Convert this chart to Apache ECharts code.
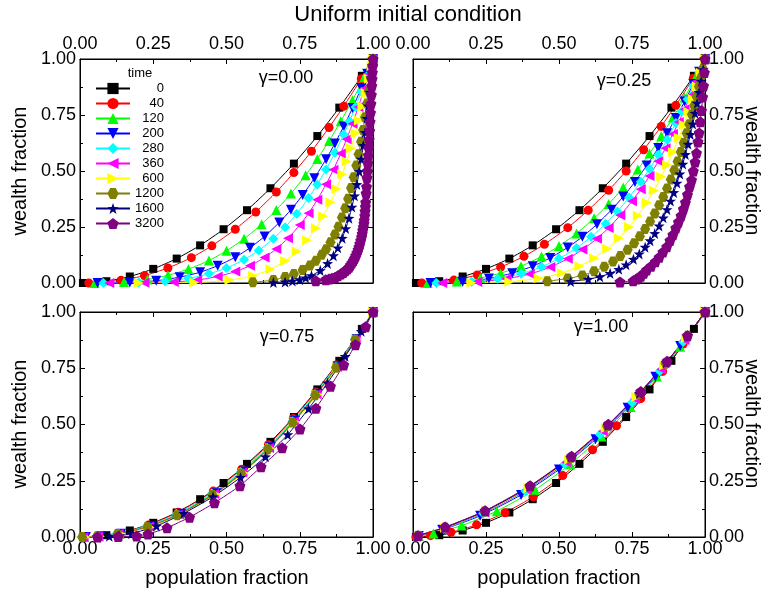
<!DOCTYPE html>
<html><head><meta charset="utf-8">
<script src="https://cdn.jsdelivr.net/npm/echarts@6/dist/echarts.min.js"></script>
<style>html,body{margin:0;padding:0;background:#fff}#c{width:768px;height:593px}</style>
</head><body><div id="c"></div>
<script>
// ---------- data ----------
const times = ['0','40','120','200','280','360','600','1200','1600','3200'];
const gammaLabels = ['\u03b3=0.00','\u03b3=0.25','\u03b3=0.75','\u03b3=1.00'];
const tickValues = [0, 0.25, 0.5, 0.75, 1];

// initial (uniform) distribution, identical in every panel
const lorenzT0 = [[0.01,0],[0.09,0.008],[0.17,0.029],[0.25,0.063],[0.33,0.109],[0.41,0.168],[0.49,0.24],[0.57,0.325],[0.65,0.423],[0.73,0.533],[0.81,0.656],[0.885,0.783],[0.962,0.925],[1,1]];

// gamma = 0.00
const g000_t40 = [[0.03,0],[0.14,0.012],[0.22,0.033],[0.30,0.067],[0.38,0.113],[0.45,0.166],[0.53,0.24],[0.60,0.317],[0.67,0.406],[0.73,0.493],[0.79,0.588],[0.85,0.694],[0.90,0.789],[0.96,0.912],[1,1]];
const g000_t120 = [[0.05,0],[0.15,0.005],[0.23,0.016],[0.30,0.034],[0.37,0.062],[0.44,0.10],[0.50,0.144],[0.56,0.197],[0.62,0.262],[0.67,0.326],[0.72,0.399],[0.77,0.481],[0.81,0.554],[0.85,0.634],[0.89,0.722],[0.93,0.816],[0.97,0.918],[1,1]];
const g000_t200 = [[0.06,0],[0.17,0.002],[0.26,0.01],[0.34,0.026],[0.41,0.048],[0.47,0.077],[0.53,0.115],[0.58,0.157],[0.63,0.208],[0.68,0.27],[0.72,0.327],[0.76,0.393],[0.80,0.468],[0.84,0.553],[0.87,0.623],[0.90,0.699],[0.93,0.781],[0.96,0.87],[0.98,0.934],[1,1]];
const g000_t280 = [[0.08,0],[0.20,0.002],[0.29,0.008],[0.37,0.021],[0.44,0.041],[0.50,0.067],[0.56,0.104],[0.61,0.145],[0.66,0.198],[0.70,0.249],[0.74,0.309],[0.78,0.379],[0.81,0.44],[0.84,0.507],[0.87,0.581],[0.90,0.663],[0.92,0.722],[0.94,0.786],[0.96,0.853],[0.98,0.924],[1,1]];
const g000_t360 = [[0.10,0],[0.22,0.001],[0.32,0.005],[0.40,0.013],[0.47,0.029],[0.53,0.051],[0.58,0.077],[0.63,0.114],[0.67,0.152],[0.71,0.20],[0.75,0.259],[0.78,0.311],[0.81,0.372],[0.84,0.441],[0.865,0.506],[0.89,0.578],[0.91,0.642],[0.93,0.711],[0.95,0.786],[0.97,0.867],[0.985,0.931],[1,1]];
const g000_t600 = [[0.20,0],[0.39,0.002],[0.51,0.013],[0.59,0.032],[0.65,0.061],[0.70,0.098],[0.74,0.141],[0.775,0.191],[0.805,0.244],[0.83,0.298],[0.855,0.361],[0.875,0.42],[0.895,0.486],[0.91,0.542],[0.925,0.602],[0.94,0.669],[0.952,0.726],[0.964,0.788],[0.975,0.848],[0.986,0.912],[0.995,0.968],[1,1]];
const g000_t1200 = [[0.59,0.003],[0.66,0.013],[0.70,0.027],[0.73,0.04],[0.76,0.058],[0.785,0.078],[0.805,0.099],[0.825,0.126],[0.84,0.151],[0.855,0.182],[0.87,0.216],[0.882,0.251],[0.894,0.292],[0.905,0.334],[0.915,0.376],[0.925,0.424],[0.934,0.472],[0.943,0.524],[0.951,0.575],[0.959,0.631],[0.966,0.683],[0.973,0.74],[0.98,0.801],[0.986,0.856],[0.992,0.916],[0.997,0.967],[1,1]];
const g000_t1600 = [[0.66,0.002],[0.70,0.005],[0.725,0.009],[0.75,0.015],[0.77,0.023],[0.79,0.033],[0.82,0.056],[0.845,0.087],[0.865,0.122],[0.88,0.157],[0.895,0.2],[0.907,0.243],[0.918,0.289],[0.928,0.339],[0.937,0.389],[0.945,0.44],[0.953,0.498],[0.96,0.553],[0.967,0.614],[0.973,0.672],[0.979,0.735],[0.984,0.791],[0.989,0.852],[0.994,0.916],[0.998,0.971],[1,1]];
const g000_t3200 = [[0.805,0.01],[0.839,0.015],[0.85,0.018],[0.86,0.021],[0.87,0.025],[0.88,0.032],[0.89,0.04],[0.898,0.047],[0.905,0.055],[0.912,0.062],[0.918,0.07],[0.923,0.08],[0.928,0.09],[0.933,0.10],[0.937,0.11],[0.941,0.122],[0.945,0.135],[0.949,0.148],[0.952,0.161],[0.955,0.175],[0.958,0.19],[0.961,0.205],[0.963,0.22],[0.965,0.235],[0.967,0.25],[0.969,0.265],[0.970,0.28],[0.972,0.30],[0.973,0.32],[0.974,0.34],[0.975,0.36],[0.9765,0.40],[0.978,0.43],[0.9795,0.47],[0.981,0.50],[0.9825,0.535],[0.984,0.57],[0.9855,0.605],[0.987,0.64],[0.9885,0.68],[0.990,0.72],[0.9915,0.76],[0.993,0.80],[0.9945,0.84],[0.996,0.88],[0.997,0.91],[0.998,0.94],[0.999,0.97],[1,1]];

// gamma = 0.25
const g025_t40 = [[0.03,0],[0.14,0.013],[0.22,0.036],[0.30,0.071],[0.38,0.119],[0.45,0.173],[0.53,0.247],[0.60,0.325],[0.67,0.414],[0.73,0.50],[0.79,0.595],[0.85,0.699],[0.90,0.793],[0.96,0.914],[1,1]];
const g025_t120 = [[0.05,0],[0.15,0.007],[0.23,0.022],[0.30,0.044],[0.37,0.075],[0.44,0.118],[0.50,0.165],[0.56,0.221],[0.62,0.289],[0.67,0.353],[0.72,0.426],[0.77,0.507],[0.81,0.578],[0.85,0.655],[0.89,0.739],[0.93,0.828],[0.97,0.924],[1,1]];
const g025_t200 = [[0.06,0],[0.17,0.006],[0.26,0.02],[0.34,0.044],[0.41,0.075],[0.47,0.112],[0.53,0.159],[0.58,0.206],[0.63,0.262],[0.68,0.327],[0.72,0.386],[0.76,0.451],[0.80,0.524],[0.84,0.603],[0.87,0.668],[0.90,0.737],[0.93,0.81],[0.96,0.888],[0.98,0.943],[1,1]];
const g025_t280 = [[0.08,0],[0.20,0.006],[0.29,0.019],[0.37,0.041],[0.44,0.072],[0.50,0.109],[0.56,0.156],[0.61,0.206],[0.66,0.265],[0.70,0.319],[0.74,0.382],[0.78,0.452],[0.81,0.51],[0.84,0.572],[0.87,0.64],[0.90,0.714],[0.92,0.766],[0.94,0.82],[0.96,0.878],[0.98,0.937],[1,1]];
const g025_t360 = [[0.10,0],[0.22,0.005],[0.32,0.019],[0.40,0.04],[0.47,0.071],[0.53,0.108],[0.58,0.149],[0.63,0.198],[0.67,0.246],[0.71,0.302],[0.75,0.365],[0.78,0.419],[0.81,0.478],[0.84,0.543],[0.865,0.602],[0.89,0.665],[0.91,0.719],[0.93,0.776],[0.95,0.836],[0.97,0.899],[0.985,0.948],[1,1]];
const g025_t600 = [[0.20,0.001],[0.33,0.006],[0.43,0.021],[0.51,0.045],[0.57,0.075],[0.62,0.111],[0.665,0.153],[0.705,0.20],[0.74,0.25],[0.77,0.30],[0.80,0.358],[0.825,0.413],[0.85,0.474],[0.87,0.527],[0.89,0.585],[0.91,0.648],[0.927,0.706],[0.943,0.763],[0.958,0.821],[0.972,0.877],[0.986,0.937],[1,1]];
const g025_t1200 = [[0.46,0.008],[0.53,0.02],[0.58,0.034],[0.62,0.052],[0.655,0.073],[0.685,0.096],[0.71,0.12],[0.735,0.148],[0.757,0.178],[0.777,0.209],[0.795,0.241],[0.812,0.275],[0.828,0.31],[0.843,0.347],[0.857,0.384],[0.87,0.422],[0.883,0.462],[0.895,0.503],[0.906,0.542],[0.917,0.585],[0.927,0.625],[0.937,0.668],[0.946,0.709],[0.955,0.752],[0.963,0.791],[0.971,0.833],[0.979,0.877],[0.986,0.916],[0.993,0.957],[1,1]];
const g025_t1600 = [[0.54,0.007],[0.60,0.017],[0.64,0.028],[0.675,0.043],[0.705,0.061],[0.73,0.081],[0.755,0.106],[0.775,0.13],[0.795,0.16],[0.812,0.189],[0.828,0.221],[0.843,0.255],[0.857,0.291],[0.87,0.328],[0.882,0.366],[0.893,0.404],[0.904,0.446],[0.914,0.487],[0.924,0.531],[0.933,0.574],[0.942,0.62],[0.95,0.663],[0.958,0.71],[0.966,0.758],[0.973,0.803],[0.98,0.851],[0.987,0.901],[0.994,0.953],[1,1]];
const g025_t3200 = [[0.709,0.005],[0.754,0.01],[0.765,0.018],[0.772,0.024],[0.78,0.03],[0.79,0.043],[0.80,0.058],[0.815,0.075],[0.83,0.095],[0.843,0.115],[0.856,0.138],[0.869,0.162],[0.88,0.19],[0.89,0.215],[0.90,0.245],[0.909,0.272],[0.918,0.30],[0.926,0.33],[0.933,0.36],[0.94,0.395],[0.947,0.43],[0.954,0.46],[0.96,0.50],[0.966,0.54],[0.971,0.58],[0.976,0.63],[0.98,0.67],[0.984,0.72],[0.988,0.77],[0.992,0.83],[0.995,0.88],[0.998,0.94],[1,1]];

// gamma = 0.75
const g075_t40 = [[0.01,0],[0.06,0.003],[0.13,0.016],[0.233,0.053],[0.335,0.11],[0.455,0.204],[0.552,0.301],[0.643,0.41],[0.728,0.527],[0.805,0.645],[0.875,0.764],[0.94,0.882],[1,1]];
const g075_t120 = [[0.015,0],[0.065,0.003],[0.135,0.015],[0.238,0.05],[0.34,0.105],[0.46,0.198],[0.556,0.294],[0.647,0.403],[0.731,0.52],[0.808,0.64],[0.877,0.76],[0.942,0.88],[1,1]];
const g075_t200 = [[0.02,0],[0.07,0.003],[0.14,0.014],[0.243,0.048],[0.345,0.103],[0.465,0.194],[0.56,0.291],[0.651,0.399],[0.734,0.517],[0.811,0.637],[0.879,0.758],[0.944,0.879],[1,1]];
const g075_t280 = [[0.005,0],[0.055,0.003],[0.125,0.014],[0.228,0.048],[0.33,0.102],[0.45,0.193],[0.548,0.289],[0.639,0.397],[0.725,0.515],[0.802,0.636],[0.873,0.757],[0.938,0.879],[1,1]];
const g075_t360 = [[0.012,0],[0.062,0.003],[0.132,0.014],[0.236,0.047],[0.338,0.101],[0.458,0.191],[0.554,0.287],[0.645,0.396],[0.73,0.513],[0.807,0.634],[0.876,0.756],[0.941,0.878],[1,1]];
const g075_t600 = [[0.018,0],[0.068,0.003],[0.138,0.014],[0.241,0.046],[0.343,0.10],[0.463,0.19],[0.558,0.285],[0.649,0.394],[0.733,0.512],[0.81,0.633],[0.878,0.754],[0.943,0.878],[1,1]];
const g075_t1200 = [[0.008,0],[0.058,0.002],[0.128,0.013],[0.23,0.045],[0.332,0.097],[0.452,0.187],[0.55,0.282],[0.641,0.39],[0.726,0.509],[0.803,0.63],[0.874,0.752],[0.939,0.877],[1,1]];
const g075_t1600 = [[0.10,0.003],[0.134,0.006],[0.176,0.015],[0.261,0.049],[0.354,0.105],[0.454,0.179],[0.548,0.265],[0.633,0.357],[0.709,0.455],[0.78,0.57],[0.845,0.685],[0.905,0.803],[0.96,0.914],[1,1]];
const g075_t3200 = [[0.06,0],[0.13,0.002],[0.193,0.005],[0.232,0.013],[0.297,0.041],[0.374,0.088],[0.459,0.152],[0.546,0.228],[0.618,0.312],[0.69,0.397],[0.751,0.48],[0.805,0.572],[0.855,0.67],[0.90,0.765],[0.94,0.855],[0.975,0.935],[1,1]];

// gamma = 1.00
const g100_t40 = [[0.01,0],[0.06,0.006],[0.13,0.021],[0.218,0.054],[0.315,0.108],[0.412,0.179],[0.513,0.273],[0.615,0.388],[0.697,0.494],[0.78,0.615],[0.855,0.736],[0.925,0.858],[1,1]];
const g100_t120 = [[0.02,0.004],[0.07,0.016],[0.167,0.051],[0.287,0.115],[0.418,0.21],[0.538,0.323],[0.646,0.447],[0.745,0.578],[0.835,0.713],[0.915,0.846],[1,1]];
const g100_t200 = [[0.02,0.005],[0.10,0.032],[0.23,0.094],[0.37,0.187],[0.50,0.30],[0.625,0.434],[0.735,0.574],[0.83,0.712],[0.915,0.849],[1,1]];
const g100_t280 = [[0.02,0.006],[0.11,0.038],[0.24,0.104],[0.385,0.204],[0.52,0.325],[0.64,0.456],[0.75,0.598],[0.845,0.737],[0.925,0.867],[1,1]];
const g100_t360 = [[0.015,0.005],[0.105,0.037],[0.245,0.109],[0.39,0.21],[0.525,0.332],[0.65,0.47],[0.76,0.613],[0.85,0.746],[0.93,0.876],[1,1]];
const g100_t600 = [[0.02,0.006],[0.11,0.041],[0.25,0.114],[0.395,0.217],[0.535,0.345],[0.66,0.485],[0.765,0.622],[0.86,0.763],[0.935,0.885],[1,1]];
const g100_t1200 = [[0.017,0.006],[0.11,0.042],[0.245,0.113],[0.40,0.223],[0.54,0.352],[0.665,0.492],[0.775,0.637],[0.865,0.771],[0.94,0.894],[1,1]];
const g100_t1600 = [[0.015,0.005],[0.11,0.043],[0.247,0.115],[0.40,0.225],[0.54,0.354],[0.667,0.496],[0.775,0.638],[0.867,0.775],[0.94,0.894],[1,1]];
const g100_t3200 = [[0.017,0.006],[0.11,0.044],[0.247,0.117],[0.401,0.228],[0.543,0.359],[0.669,0.501],[0.78,0.647],[0.87,0.781],[0.94,0.895],[1,1]];

const panelSeries = [
  [lorenzT0, g000_t40, g000_t120, g000_t200, g000_t280, g000_t360, g000_t600, g000_t1200, g000_t1600, g000_t3200],
  [lorenzT0, g025_t40, g025_t120, g025_t200, g025_t280, g025_t360, g025_t600, g025_t1200, g025_t1600, g025_t3200],
  [lorenzT0, g075_t40, g075_t120, g075_t200, g075_t280, g075_t360, g075_t600, g075_t1200, g075_t1600, g075_t3200],
  [lorenzT0, g100_t40, g100_t120, g100_t200, g100_t280, g100_t360, g100_t600, g100_t1200, g100_t1600, g100_t3200]
];

// ---------- styles ----------
const FONT = '"Liberation Sans", Arial, sans-serif';
const colors = ['#000000','#ff0000','#00ff00','#0000ff','#00ffff','#ff00ff','#ffff00','#808000','#000080','#800080'];
const STAR = 'path://M0,-10L2.35,-3.24L9.51,-3.09L3.8,1.24L5.88,8.09L0,4L-5.88,8.09L-3.8,1.24L-9.51,-3.09L-2.35,-3.24Z';
const PENT = 'path://M0,-10L9.51,-3.09L5.88,8.09L-5.88,8.09L-9.51,-3.09Z';
const HEX = 'path://M-5,-8.66L5,-8.66L10,0L5,8.66L-5,8.66L-10,0Z';
const symbols = ['rect','circle','triangle','triangle','diamond','triangle','triangle',HEX,STAR,PENT];
const rotates = [0,0,0,180,0,90,-90,0,0,0];
const sizes = [8,9,10,10,10,10,10,10,11,11];

const grids = [
  {left:80, top:59, width:293, height:224},
  {left:413, top:59, width:292, height:224},
  {left:80, top:312, width:293, height:225},
  {left:413, top:312, width:292, height:225}
];
const xLabelPos = ['top','top','bottom','bottom'];
const yLabelPos = ['left','right','left','right'];

function axisCommon(showLabel, margin) {
  return {
    type:'value', min:0, max:1, interval:0.25,
    axisLine:{show:true, onZero:false, lineStyle:{color:'#000', width:1}},
    axisTick:{show:true, inside:true, length:5, lineStyle:{color:'#000', width:1}},
    minorTick:{show:true, splitNumber:2, length:3, lineStyle:{color:'#000', width:1}},
    splitLine:{show:false}, minorSplitLine:{show:false},
    axisLabel:{show:showLabel, margin:margin, color:'#000', fontSize:18, fontFamily:FONT,
      showMinLabel:true, showMaxLabel:true,
      formatter: v => (tickValues.indexOf(v) >= 0 ? v.toFixed(2) : '')}
  };
}

const xAxis = [], yAxis = [];
grids.forEach((g, i) => {
  const xp = xLabelPos[i], yp = yLabelPos[i];
  xAxis.push(Object.assign(axisCommon(true, xp === 'top' ? 6 : 3), {gridIndex:i, position:xp}));
  xAxis.push(Object.assign(axisCommon(false, 4), {gridIndex:i, position: xp === 'top' ? 'bottom' : 'top'}));
  yAxis.push(Object.assign(axisCommon(true, 4), {gridIndex:i, position:yp}));
  yAxis.push(Object.assign(axisCommon(false, 4), {gridIndex:i, position: yp === 'left' ? 'right' : 'left'}));
});

const series = [];
panelSeries.forEach((list, gi) => {
  list.forEach((data, si) => {
    series.push({
      type:'line', name:times[si], xAxisIndex:2*gi, yAxisIndex:2*gi,
      data:data, smooth:0.2, clip:true,
      symbol:symbols[si], symbolSize:sizes[si], symbolRotate:rotates[si],
      showAllSymbol:true,
      lineStyle:{color:colors[si], width:1},
      itemStyle:{color:colors[si], borderWidth:0},
      emphasis:{disabled:true}, animation:false
    });
  });
});

const graphic = [
  {type:'text', x:408, y:15, style:{text:'Uniform initial condition', font:'22px ' + FONT, fill:'#000', textAlign:'center', textVerticalAlign:'middle'}},
  {type:'text', x:140, y:73, style:{text:'time', font:'13px ' + FONT, fill:'#000', textAlign:'center', textVerticalAlign:'middle'}},
  {type:'text', x:20, y:171, rotation:Math.PI/2, style:{text:'wealth fraction', font:'20px ' + FONT, fill:'#000', textAlign:'center', textVerticalAlign:'middle'}},
  {type:'text', x:20, y:424, rotation:Math.PI/2, style:{text:'wealth fraction', font:'20px ' + FONT, fill:'#000', textAlign:'center', textVerticalAlign:'middle'}},
  {type:'text', x:752, y:171, rotation:-Math.PI/2, style:{text:'wealth fraction', font:'20px ' + FONT, fill:'#000', textAlign:'center', textVerticalAlign:'middle'}},
  {type:'text', x:752, y:424, rotation:-Math.PI/2, style:{text:'wealth fraction', font:'20px ' + FONT, fill:'#000', textAlign:'center', textVerticalAlign:'middle'}},
  {type:'text', x:227, y:578, style:{text:'population fraction', font:'20px ' + FONT, fill:'#000', textAlign:'center', textVerticalAlign:'middle'}},
  {type:'text', x:559, y:578, style:{text:'population fraction', font:'20px ' + FONT, fill:'#000', textAlign:'center', textVerticalAlign:'middle'}}
];
const gammaPos = [[286,78],[624,81],[287,337],[601,327]];
gammaLabels.forEach((t, i) => {
  graphic.push({type:'text', x:gammaPos[i][0], y:gammaPos[i][1], z:100,
    style:{text:t, font:'18px ' + FONT, fill:'#000', textAlign:'center', textVerticalAlign:'middle'}});
});

const chart = echarts.init(document.getElementById('c'), null, {renderer:'canvas'});
chart.setOption({
  animation:false,
  backgroundColor:'#fff',
  grid: grids.map(g => Object.assign({show:true, borderColor:'#000', borderWidth:1, backgroundColor:'transparent', containLabel:false, outerBoundsMode:'none'}, g)),
  xAxis: xAxis,
  yAxis: yAxis,
  legend: {
    data: times, orient:'vertical', left:95, top:82, itemWidth:34, itemHeight:14, itemGap:2,
    selectedMode:false, backgroundColor:'transparent', padding:0,
    formatter: n => '{r|' + n + '}',
    textStyle:{color:'#000', fontSize:13, fontFamily:FONT, rich:{r:{width:29, align:'right', fontSize:13, fontFamily:FONT, color:'#000'}}}
  },
  tooltip:{show:false},
  graphic: graphic,
  series: series
});
</script></body></html>
